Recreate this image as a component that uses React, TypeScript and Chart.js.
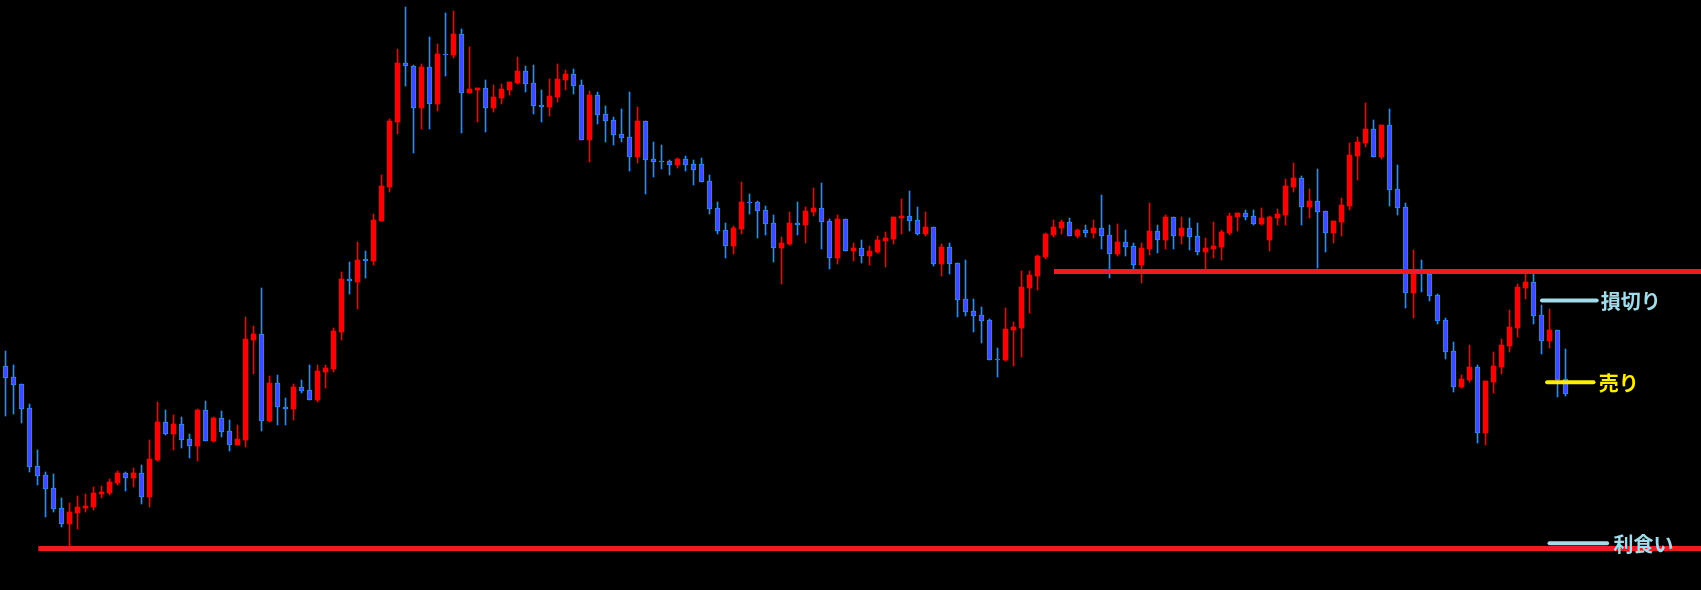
import React, { useEffect, useRef } from 'react';
import { Chart, registerables } from 'chart.js';

Chart.register(...registerables);

// OHLC values (price points), one entry per candle, oldest first
const opens = [
  234, 223, 216, 192, 134, 125, 112, 92, 76, 87,
  92, 93, 106, 107, 117, 127, 122, 127, 103, 140,
  178, 166, 176, 161, 154, 190, 159, 182, 169, 155,
  160, 260, 266, 179, 217, 193, 191, 213, 210, 200,
  228, 231, 268, 321, 318, 341, 339, 379, 413, 478,
  537, 534, 492, 533, 496, 546, 545, 566, 507, 510,
  512, 492, 502, 510, 517, 529, 517, 495, 493, 503,
  520, 526, 515, 460, 505, 486, 480, 466, 463, 443,
  479, 441, 439, 439, 435, 441, 436, 436, 419, 392,
  370, 354, 371, 398, 398, 390, 377, 352, 356, 377,
  375, 388, 392, 379, 342, 381, 349, 352, 344, 348,
  359, 361, 382, 384, 380, 366, 373, 336, 353, 337,
  301, 289, 285, 280, 241, 240, 270, 272, 312, 324,
  343, 365, 372, 378, 364, 370, 367, 372, 365, 346,
  358, 354, 335, 351, 369, 360, 383, 364, 372, 364,
  348, 351, 353, 367, 383, 387, 384, 376, 360, 382,
  385, 413, 422, 393, 399, 389, 367, 378, 394, 444,
  457, 471, 443, 475, 411, 393, 307, 327, 326, 305,
  280, 249, 213, 220, 233, 167, 218, 233, 254, 272,
  312, 318, 285, 259, 270, 221,
];
const highs = [
  249, 235, 216, 196, 150, 128, 126, 102, 97, 104,
  106, 113, 114, 121, 129, 128, 132, 135, 160, 198,
  190, 185, 183, 166, 191, 199, 183, 189, 180, 175,
  283, 274, 312, 224, 225, 202, 216, 220, 235, 235,
  235, 272, 328, 338, 358, 349, 386, 425, 481, 551,
  593, 535, 536, 563, 556, 587, 589, 571, 553, 512,
  520, 515, 516, 518, 543, 534, 535, 510, 521, 536,
  530, 531, 520, 509, 508, 494, 483, 491, 508, 493,
  479, 458, 455, 440, 442, 444, 440, 442, 425, 398,
  377, 374, 418, 406, 399, 394, 385, 363, 388, 398,
  393, 412, 417, 381, 385, 381, 357, 360, 354, 364,
  368, 383, 401, 409, 393, 388, 373, 356, 357, 337,
  340, 301, 293, 281, 252, 292, 278, 329, 329, 345,
  367, 380, 380, 382, 371, 375, 380, 405, 375, 376,
  370, 357, 357, 397, 375, 385, 383, 383, 382, 377,
  362, 378, 370, 387, 387, 390, 390, 392, 384, 391,
  421, 437, 424, 411, 431, 389, 379, 402, 457, 463,
  497, 480, 475, 491, 435, 397, 350, 340, 327, 306,
  282, 258, 225, 255, 235, 219, 248, 261, 290, 316,
  327, 327, 295, 291, 270, 251,
];
const lows = [
  184, 186, 177, 128, 115, 83, 88, 73, 53, 71,
  88, 90, 102, 105, 115, 109, 113, 96, 93, 139,
  165, 150, 152, 142, 139, 159, 158, 163, 149, 155,
  153, 226, 169, 178, 175, 175, 180, 207, 200, 198,
  212, 228, 260, 306, 291, 322, 335, 379, 408, 466,
  514, 447, 471, 471, 489, 524, 542, 467, 507, 478,
  468, 488, 496, 505, 516, 508, 486, 478, 484, 498,
  510, 506, 460, 438, 476, 458, 455, 458, 429, 437,
  406, 423, 431, 425, 432, 429, 415, 418, 386, 366,
  342, 346, 366, 386, 362, 365, 338, 316, 355, 365,
  357, 384, 351, 331, 336, 349, 339, 337, 335, 347,
  333, 356, 366, 369, 365, 364, 334, 324, 326, 283,
  284, 268, 257, 240, 223, 239, 234, 243, 287, 310,
  341, 363, 366, 364, 362, 363, 362, 351, 322, 344,
  344, 330, 317, 345, 347, 351, 351, 356, 350, 345,
  330, 342, 340, 365, 369, 380, 375, 375, 349, 375,
  375, 408, 375, 382, 332, 348, 357, 364, 390, 420,
  453, 443, 441, 394, 385, 292, 282, 308, 299, 276,
  241, 208, 212, 218, 157, 155, 207, 226, 248, 263,
  301, 276, 246, 252, 203, 204,
];
const closes = [
  222, 215, 191, 133, 124, 111, 91, 76, 88, 93,
  94, 107, 108, 118, 127, 122, 127, 103, 141, 178,
  166, 176, 160, 154, 190, 159, 182, 168, 155, 161,
  261, 266, 179, 217, 193, 191, 213, 209, 200, 229,
  232, 269, 321, 319, 340, 339, 380, 414, 479, 537,
  534, 492, 533, 496, 546, 545, 566, 507, 511, 512,
  492, 503, 511, 518, 529, 516, 494, 493, 504, 521,
  526, 514, 460, 505, 485, 479, 465, 462, 443, 479,
  440, 438, 438, 435, 441, 435, 430, 418, 391, 369,
  354, 372, 398, 397, 389, 376, 352, 357, 377, 375,
  389, 392, 378, 342, 381, 349, 352, 344, 349, 360,
  362, 383, 384, 379, 366, 373, 336, 353, 336, 300,
  288, 284, 279, 240, 240, 271, 273, 313, 325, 344,
  366, 373, 378, 364, 370, 367, 372, 364, 346, 358,
  353, 335, 352, 369, 360, 383, 364, 372, 363, 348,
  352, 354, 368, 384, 387, 383, 376, 382, 383, 386,
  414, 422, 393, 399, 388, 367, 379, 395, 445, 458,
  471, 443, 475, 410, 392, 307, 328, 326, 304, 279,
  248, 213, 221, 233, 167, 219, 234, 255, 273, 313,
  318, 284, 259, 270, 220, 206,
];

// Horizontal support / resistance levels
const resistanceLevel = 328.5;
const resistanceFrom = 131.06;
const supportLevel = 51.5;
const supportFrom = 4.1;
const levelsTo = 212;

// Trade markers: stop loss, sell entry, take profit
const markerNames = ['損切り', '売り', '利食い'];
const markerLevels = [299.5, 217.7, 56.7];
const markerFrom = [192.06, 192.7, 193.0];
const markerTo = [198.9, 198.5, 200.2];
const markerLabelAt = [199.4, 199.15, 201.0];

const UP = '#ff0000';
const DOWN_FILL = '#3c4cff';
const DOWN_EDGE = '#1e90ff';
const LEVEL_RED = '#ed1c24';
const MARKER_COLORS = ['#a2dbe9', '#ffee00', '#a2dbe9'];

const labelPlugin = {
  id: 'markerLabels',
  afterDatasetsDraw(chart: any) {
    const { ctx, scales } = chart;
    const x = scales.x;
    const y = scales.y;
    ctx.save();
    ctx.font = 'bold 20px "Noto Sans CJK JP", "Noto Sans", sans-serif';
    ctx.textBaseline = 'middle';
    ctx.textAlign = 'left';
    markerNames.forEach((t, k) => {
      ctx.fillStyle = MARKER_COLORS[k];
      ctx.fillText(t, x.getPixelForValue(markerLabelAt[k]), y.getPixelForValue(markerLevels[k]) + 1);
    });
    ctx.restore();
  },
};

export default function App() {
  const ref = useRef<HTMLCanvasElement | null>(null);

  useEffect(() => {
    document.body.style.margin = '0';
    document.body.style.background = '#000';
    const canvas = ref.current;
    if (!canvas) return;
    const idx = opens.map((_, i) => i);
    const isUp = idx.map((i) => closes[i] >= opens[i]);

    const levelLine = (label: string, from: number, level: number) => ({
      type: 'line' as const,
      label,
      data: [
        { x: from, y: level },
        { x: levelsTo, y: level },
      ],
      borderColor: LEVEL_RED,
      borderWidth: 5,
      borderCapStyle: 'butt' as const,
      pointRadius: 0,
      fill: false,
      order: 0,
    });

    const markerLines = markerNames.map((n, k) => ({
      type: 'line' as const,
      label: n,
      data: [
        { x: markerFrom[k], y: markerLevels[k] },
        { x: markerTo[k], y: markerLevels[k] },
      ],
      borderColor: MARKER_COLORS[k],
      borderWidth: 4,
      borderCapStyle: 'round' as const,
      pointRadius: 0,
      fill: false,
      order: 0,
    }));

    const chart = new Chart(canvas, {
      type: 'bar',
      data: {
        datasets: [
          levelLine('resistance', resistanceFrom, resistanceLevel),
          levelLine('support', supportFrom, supportLevel),
          ...markerLines,
          {
            type: 'bar',
            label: 'body',
            data: idx.map((i) => ({ x: i, y: [opens[i], closes[i]] })) as any,
            backgroundColor: idx.map((i) => (isUp[i] ? UP : DOWN_FILL)),
            borderColor: idx.map((i) => (isUp[i] ? UP : DOWN_EDGE)),
            borderWidth: idx.map((i) => (isUp[i] ? 0 : 1)),
            borderSkipped: false,
            barThickness: 5,
            grouped: false,
            order: 1,
          } as any,
          {
            type: 'bar',
            label: 'wick',
            data: idx.map((i) => ({ x: i, y: [lows[i], highs[i]] })) as any,
            backgroundColor: idx.map((i) => (isUp[i] ? UP : DOWN_EDGE)),
            borderWidth: 0,
            barThickness: 1,
            grouped: false,
            order: 2,
          } as any,
        ],
      },
      options: {
        responsive: false,
        maintainAspectRatio: false,
        animation: false,
        events: [],
        layout: { padding: 0 },
        plugins: {
          legend: { display: false },
          tooltip: { enabled: false },
        },
        scales: {
          x: {
            type: 'linear',
            min: -0.6875,
            max: 211.9375,
            offset: false,
            display: false,
          },
          y: {
            type: 'linear',
            min: 10,
            max: 600,
            display: false,
          },
        },
      } as any,
      plugins: [labelPlugin],
    });
    return () => chart.destroy();
  }, []);

  return (
    <div style={{ position: 'fixed', left: 0, top: 0, width: 1701, height: 590, background: '#000' }}>
      <canvas ref={ref} width={1701} height={590} style={{ display: 'block', width: 1701, height: 590 }} />
    </div>
  );
}
